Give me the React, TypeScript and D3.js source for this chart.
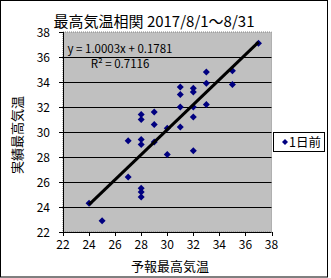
import React from "react";
import * as d3 from "d3";

const forecast = [24, 25, 27, 27, 28, 28, 28, 28, 28, 28, 28, 29, 29, 29, 30, 30, 31, 31, 31, 31, 32, 32, 32, 32, 32, 33, 33, 33, 35, 35, 37];
const actual = [24.3, 22.9, 26.4, 29.3, 25.5, 25.2, 24.8, 29.4, 29.0, 31.4, 31.0, 29.2, 30.6, 31.6, 28.2, 30.3, 30.4, 32.0, 33.0, 33.6, 28.5, 31.2, 32.0, 33.2, 33.5, 32.2, 33.9, 34.8, 33.8, 34.9, 37.1];
const xTicks = [22, 24, 26, 28, 30, 32, 34, 36, 38];
const yTicks = [22, 24, 26, 28, 30, 32, 34, 36, 38];
const slope = 1.0003;
const intercept = 0.1781;
const title = "最高気温相関 2017/8/1～8/31";
const xTitle = "予報最高気温";
const yTitle = "実績最高気温";
const seriesName = "1日前";
const eqText = "y = 1.0003x + 0.1781";
const r2Text = "R² = 0.7116";

const W = 331, H = 278;
const L = 63, R = 271.5, T = 32, B = 232;
const font = "'Noto Sans CJK JP', sans-serif";

export default function App() {
  const x = d3.scaleLinear().domain([22, 38]).range([L, R]);
  const y = d3.scaleLinear().domain([22, 38]).range([B, T]);
  const xMin = d3.min(forecast) as number;
  const xMax = d3.max(forecast) as number;
  const diamond = (cx: number, cy: number, s = 3.5) =>
    `M${cx},${cy - s}L${cx + s},${cy}L${cx},${cy + s}L${cx - s},${cy}Z`;
  return (
    <svg width={W} height={H} style={{ position: "absolute", left: 0, top: 0, background: "#fff" }}>
      <rect x={0.5} y={0.5} width={327} height={276.5} fill="#fff" stroke="#000" />
      <rect x={L} y={T} width={R - L} height={B - T} fill="#c0c0c0" stroke="#808080" strokeDasharray="1,1" />
      {yTicks.filter(t => t > 22 && t < 38).map(t => (
        <line key={"g" + t} x1={L} x2={R} y1={Math.round(y(t)) + 0.5} y2={Math.round(y(t)) + 0.5} stroke="#000" />
      ))}
      <line x1={L + 0.5} x2={L + 0.5} y1={T} y2={B + 0.5} stroke="#000" />
      <line x1={L} x2={R} y1={B + 0.5} y2={B + 0.5} stroke="#000" />
      {yTicks.map(t => (
        <g key={"y" + t}>
          <line x1={L - 4} x2={L} y1={Math.round(y(t)) + 0.5} y2={Math.round(y(t)) + 0.5} stroke="#000" />
          <text x={50} y={y(t) + 4.5} textAnchor="end" fontSize={12} fontFamily={font}>{t}</text>
        </g>
      ))}
      {xTicks.map(t => (
        <g key={"x" + t}>
          <line x1={Math.round(x(t)) + 0.5} x2={Math.round(x(t)) + 0.5} y1={B} y2={B + 4} stroke="#000" />
          <text x={x(t)} y={249} textAnchor="middle" fontSize={12} fontFamily={font}>{t}</text>
        </g>
      ))}
      {forecast.map((f, i) => (
        <path key={"p" + i} d={diamond(x(f), y(actual[i]))} fill="#000080" />
      ))}
      <line x1={x(xMin)} y1={y(slope * xMin + intercept)} x2={x(xMax)} y2={y(slope * xMax + intercept)} stroke="#000" strokeWidth={3} />
      <text x={120} y={53} textAnchor="middle" fontSize={11.5} fontFamily={font}>{eqText}</text>
      <text x={120} y={68} textAnchor="middle" fontSize={11.5} fontFamily={font}>{r2Text}</text>
      <text x={154} y={27} textAnchor="middle" fontSize={15} fontFamily={font}>{title}</text>
      <text x={170} y={271} textAnchor="middle" fontSize={13} fontFamily={font}>{xTitle}</text>
      <text transform={`translate(22,135) rotate(-90)`} textAnchor="middle" fontSize={13} fontFamily={font}>{yTitle}</text>
      <rect x={273.5} y={132.5} width={51} height={19} fill="#fff" stroke="#000" />
      <path d={diamond(285, 142, 3)} fill="#000080" />
      <text x={289} y={147} fontSize={12.5} fontFamily={font}>{seriesName}</text>
    </svg>
  );
}
